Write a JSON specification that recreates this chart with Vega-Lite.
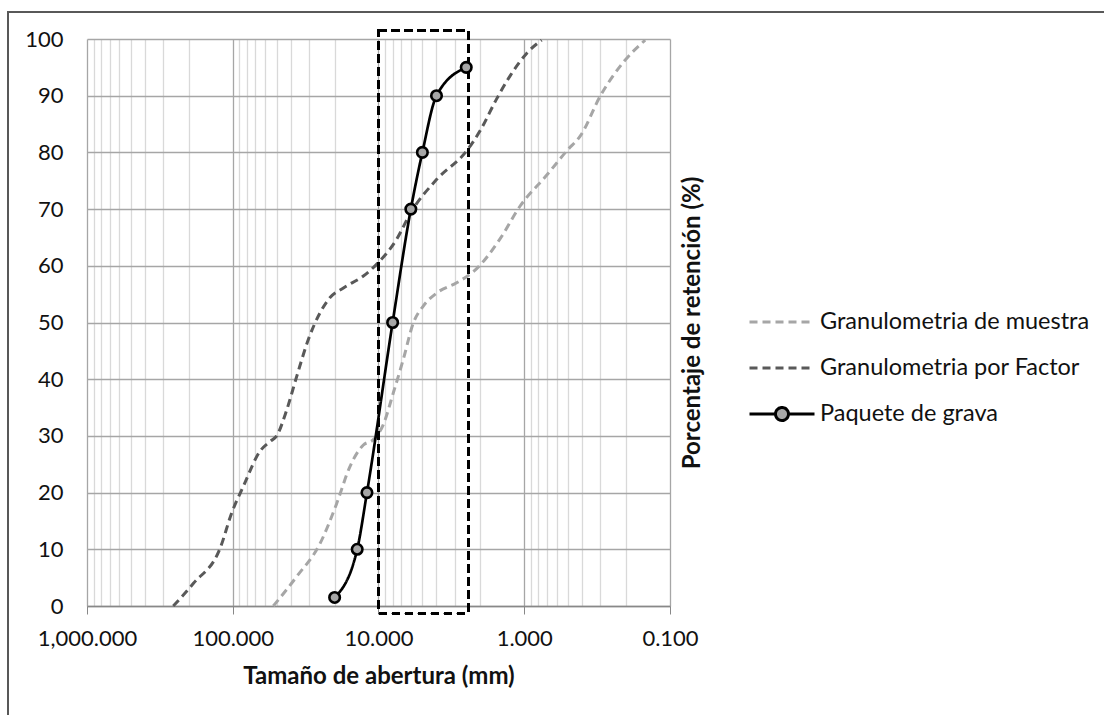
{
  "$schema": "https://vega.github.io/schema/vega-lite/v6.json",
  "width": 583,
  "height": 567,
  "autosize": {"type": "none"},
  "padding": {"left": 87, "top": 39, "right": 434, "bottom": 109},
  "background": "white",
  "config": {"view": {"stroke": null}, "font": "Lato"},
  "data": {
    "values": [
      {"series": "Granulometria de muestra", "size": 52.7, "pct": 0},
      {"series": "Granulometria de muestra", "size": 36.4, "pct": 5.2},
      {"series": "Granulometria de muestra", "size": 25.2, "pct": 11},
      {"series": "Granulometria de muestra", "size": 19.4, "pct": 18},
      {"series": "Granulometria de muestra", "size": 15.7, "pct": 24.6},
      {"series": "Granulometria de muestra", "size": 12.7, "pct": 28.4},
      {"series": "Granulometria de muestra", "size": 10.9, "pct": 29.3},
      {"series": "Granulometria de muestra", "size": 9.27, "pct": 32},
      {"series": "Granulometria de muestra", "size": 7.91, "pct": 37.6},
      {"series": "Granulometria de muestra", "size": 6.76, "pct": 43.5},
      {"series": "Granulometria de muestra", "size": 5.77, "pct": 49.9},
      {"series": "Granulometria de muestra", "size": 4.93, "pct": 52.9},
      {"series": "Granulometria de muestra", "size": 3.99, "pct": 55.2},
      {"series": "Granulometria de muestra", "size": 2.91, "pct": 57},
      {"series": "Granulometria de muestra", "size": 2.12, "pct": 59.5},
      {"series": "Granulometria de muestra", "size": 1.47, "pct": 64.7},
      {"series": "Granulometria de muestra", "size": 1.07, "pct": 70.5},
      {"series": "Granulometria de muestra", "size": 0.70, "pct": 76},
      {"series": "Granulometria de muestra", "size": 0.51, "pct": 80.3},
      {"series": "Granulometria de muestra", "size": 0.41, "pct": 83},
      {"series": "Granulometria de muestra", "size": 0.30, "pct": 90},
      {"series": "Granulometria de muestra", "size": 0.209, "pct": 95.9},
      {"series": "Granulometria de muestra", "size": 0.148, "pct": 99.8},

      {"series": "Granulometria por Factor", "size": 256, "pct": 0},
      {"series": "Granulometria por Factor", "size": 186, "pct": 4},
      {"series": "Granulometria por Factor", "size": 122, "pct": 10.2},
      {"series": "Granulometria por Factor", "size": 101.7, "pct": 16.4},
      {"series": "Granulometria por Factor", "size": 84.6, "pct": 21.1},
      {"series": "Granulometria por Factor", "size": 65, "pct": 27.3},
      {"series": "Granulometria por Factor", "size": 55.5, "pct": 29},
      {"series": "Granulometria por Factor", "size": 50, "pct": 30},
      {"series": "Granulometria por Factor", "size": 42.6, "pct": 34.6},
      {"series": "Granulometria por Factor", "size": 36.4, "pct": 40.5},
      {"series": "Granulometria por Factor", "size": 30.3, "pct": 47},
      {"series": "Granulometria por Factor", "size": 25.2, "pct": 51.7},
      {"series": "Granulometria por Factor", "size": 21.5, "pct": 54.4},
      {"series": "Granulometria por Factor", "size": 17.4, "pct": 56.1},
      {"series": "Granulometria por Factor", "size": 12.7, "pct": 58.2},
      {"series": "Granulometria por Factor", "size": 10.0, "pct": 60.6},
      {"series": "Granulometria por Factor", "size": 7.5, "pct": 64.7},
      {"series": "Granulometria por Factor", "size": 6.0, "pct": 69.4},
      {"series": "Granulometria por Factor", "size": 4.0, "pct": 75.2},
      {"series": "Granulometria por Factor", "size": 2.48, "pct": 80.3},
      {"series": "Granulometria por Factor", "size": 2.01, "pct": 83.8},
      {"series": "Granulometria por Factor", "size": 1.55, "pct": 89.4},
      {"series": "Granulometria por Factor", "size": 1.25, "pct": 93.5},
      {"series": "Granulometria por Factor", "size": 0.96, "pct": 97.5},
      {"series": "Granulometria por Factor", "size": 0.76, "pct": 99.8},

      {"series": "Paquete de grava", "size": 20, "pct": 1.5},
      {"series": "Paquete de grava", "size": 14, "pct": 10},
      {"series": "Paquete de grava", "size": 12, "pct": 20},
      {"series": "Paquete de grava", "size": 8, "pct": 50},
      {"series": "Paquete de grava", "size": 6, "pct": 70},
      {"series": "Paquete de grava", "size": 5, "pct": 80},
      {"series": "Paquete de grava", "size": 4, "pct": 90},
      {"series": "Paquete de grava", "size": 2.5, "pct": 95}
    ]
  },
  "resolve": {"axis": {"x": "independent", "y": "independent"}},
  "layer": [
    {
      "description": "chart area border",
      "mark": {"type": "rect", "fill": null, "stroke": "#595959", "strokeWidth": 1.3},
      "encoding": {
        "x": {"datum": 3480, "type": "quantitative", "scale": {"type": "log", "domain": [0.1, 1000], "reverse": true, "nice": false}, "axis": null},
        "x2": {"datum": 0.00005},
        "y": {"datum": 104.8, "type": "quantitative", "scale": {"domain": [0, 100], "nice": false}, "axis": null},
        "y2": {"datum": -30}
      }
    },
    {
      "mark": {"type": "line", "interpolate": "monotone", "strokeCap": "butt"},
      "encoding": {
        "x": {
          "field": "size",
          "type": "quantitative",
          "scale": {"type": "log", "domain": [0.1, 1000], "reverse": true, "nice": false},
          "axis": {
            "values": [0.1, 0.2, 0.3, 0.4, 0.5, 0.6, 0.7, 0.8, 0.9, 1, 2, 3, 4, 5, 6, 7, 8, 9, 10, 20, 30, 40, 50, 60, 70, 80, 90, 100, 200, 300, 400, 500, 600, 700, 800, 900, 1000],
            "labelExpr": "abs(log(datum.value)/LN10 - round(log(datum.value)/LN10)) < 0.001 ? format(datum.value, ',.3f') : ''",
            "labelFlush": false,
            "labelOverlap": false,
            "labelFont": "Lato",
            "labelFontSize": 22,
            "labelColor": "#111111",
            "labelPadding": 14,
            "tickSize": 8,
            "tickColor": "#888888",
            "tickOpacity": {"condition": {"test": "abs(log(datum.value)/LN10 - round(log(datum.value)/LN10)) < 0.001", "value": 1}, "value": 0},
            "domainColor": "#888888",
            "domainWidth": 1.3,
            "grid": true,
            "gridColor": {"condition": {"test": "abs(log(datum.value)/LN10 - round(log(datum.value)/LN10)) < 0.001", "value": "#a6a6a6"}, "value": "#d9d9d9"},
            "gridWidth": 1.3,
            "title": "Tamaño de abertura (mm)",
            "titleFont": "Lato",
            "titleFontSize": 24,
            "titleFontWeight": "bold",
            "titleColor": "#111111",
            "titlePadding": 15
          }
        },
        "y": {
          "field": "pct",
          "type": "quantitative",
          "scale": {"domain": [0, 100], "nice": false},
          "axis": {
            "orient": "left",
            "values": [0, 10, 20, 30, 40, 50, 60, 70, 80, 90, 100],
            "ticks": false,
            "tickSize": 0,
            "domain": false,
            "labelFont": "Lato",
            "labelFontSize": 22,
            "labelColor": "#111111",
            "labelPadding": 24,
            "grid": true,
            "gridColor": "#a6a6a6",
            "gridWidth": 1.3,
            "title": null
          }
        },
        "order": {"field": "pct", "type": "quantitative"},
        "color": {
          "field": "series",
          "type": "nominal",
          "scale": {
            "domain": ["Granulometria de muestra", "Granulometria por Factor", "Paquete de grava"],
            "range": ["#a6a6a6", "#595959", "#000000"]
          },
          "legend": {
            "orient": "none",
            "legendX": 661,
            "legendY": 249,
            "title": null,
            "padding": 0,
            "symbolType": "stroke",
            "symbolSize": 4225,
            "symbolStrokeWidth": 3,
            "labelFont": "Lato",
            "labelFontSize": 23.5,
            "labelColor": "#111111",
            "labelOffset": 4,
            "labelLimit": 0,
            "rowPadding": -1,
            "encode": {
              "symbols": {
                "update": {
                  "shape": {"signal": "datum.value === 'Paquete de grava' ? 'M-1,0H-0.2M0.2,0H1M-0.2,0A0.2,0.2 0 1,0 0.2,0A0.2,0.2 0 1,0 -0.2,0Z' : 'stroke'"},
                  "fill": {"signal": "datum.value === 'Paquete de grava' ? '#a6a6a6' : 'transparent'"},
                  "strokeDash": {"signal": "datum.value === 'Paquete de grava' ? [1, 0] : [8, 5]"}
                }
              }
            }
          }
        },
        "strokeDash": {
          "condition": {"test": "datum.series === 'Paquete de grava'", "value": [1, 0]},
          "value": [8, 5]
        },
        "strokeWidth": {
          "condition": {"test": "datum.series === 'Paquete de grava'", "value": 2.7},
          "value": 3
        }
      }
    },
    {
      "description": "dashed box around the gravel-pack band",
      "mark": {"type": "rect", "fill": null, "stroke": "#000000", "strokeWidth": 2.3, "strokeDash": [8, 5]},
      "encoding": {
        "x": {"datum": 10, "type": "quantitative", "axis": null},
        "x2": {"datum": 2.42},
        "y": {"datum": -1.3, "type": "quantitative", "axis": null},
        "y2": {"datum": 101.5}
      }
    },
    {
      "transform": [{"filter": "datum.series === 'Paquete de grava'"}],
      "mark": {"type": "point", "shape": "circle", "filled": true, "fill": "#a6a6a6", "stroke": "#000000", "strokeWidth": 2.6, "size": 110, "opacity": 1},
      "encoding": {
        "x": {"field": "size", "type": "quantitative", "axis": null},
        "y": {
          "field": "pct",
          "type": "quantitative",
          "axis": {
            "orient": "right",
            "labels": false,
            "ticks": false,
            "domain": false,
            "grid": false,
            "title": "Porcentaje de retención (%)",
            "titleAngle": 270,
            "titleBaseline": "middle",
            "titleFont": "Lato",
            "titleFontSize": 24,
            "titleFontWeight": "bold",
            "titleColor": "#111111",
            "titlePadding": 22
          }
        }
      }
    }
  ]
}
